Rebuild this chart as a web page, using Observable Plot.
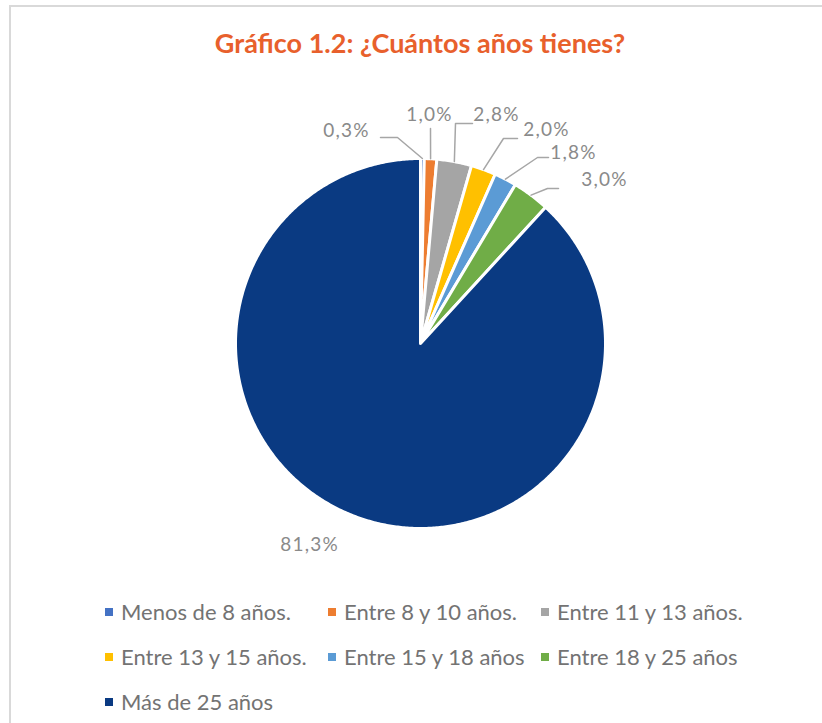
<!DOCTYPE html>
<html><head><meta charset="utf-8">
<script src="https://cdn.jsdelivr.net/npm/d3@7"></script>
<script src="https://cdn.jsdelivr.net/npm/@observablehq/plot@0.6"></script>
<style>
body{margin:0;background:#fff;font-family:Lato,sans-serif;}
#wrap{position:relative;width:822px;height:723px;overflow:hidden;background:#fff;}
#frame{position:absolute;left:9px;top:5px;width:900px;height:800px;border-left:2px solid #d9d9d9;border-top:2px solid #d9d9d9;}
#title{position:absolute;left:0;top:28px;width:840px;text-align:center;font-weight:700;font-size:27px;line-height:30px;color:#E8602C;}
#chart{position:absolute;left:0;top:0;}
#legend{position:absolute;left:105px;top:589px;display:grid;grid-template-columns:223px 213px auto;}
.item{height:45px;display:flex;align-items:center;font-size:22px;color:#737373;white-space:nowrap;}
.sw{width:8px;height:8px;margin-right:8px;flex:none;}
</style></head>
<body>
<div id="wrap">
  <div id="frame"></div>
  <div id="chart"></div>
  <div id="title"></div>
  <div id="legend"></div>
</div>
<script>
// ---- data ----
const titleText = "Gráfico 1.2: ¿Cuántos años tienes?";
const categories = ["Menos de 8 años.","Entre 8 y 10 años.","Entre 11 y 13 años.","Entre 13 y 15 años.","Entre 15 y 18 años","Entre 18 y 25 años","Más de 25 años"];
const percentages = [0.3, 1.0, 2.8, 2.0, 1.8, 3.0, 81.3];
const colors = ["#4472C4","#ED7D31","#A5A5A5","#FFC000","#5B9BD5","#70AD47","#0A3A82"];

// ---- layout (pixels, relative to pie centre) ----
const R = 185, CX = 420, CY = 343, W = 822, H = 590;
const labelOffsets = [[-74,-213],[9,-229],[76,-229],[126,-214],[153,-191],[184,-164],[-111,201]];
const leaderBends = [[[-23,-206],[-40,-206]], [[10,-215]], [[35,-220],[52,-220]], [[83,-205],[97,-205]], [[117,-186],[128,-186]], [[127,-155],[138,-155]], null];

document.getElementById("title").textContent = titleText;

const pie = d3.pie().sort(null).value(d => d)(percentages);
const slices = [];
const leaders = [];
const labels = [];
pie.forEach((p, i) => {
  const a0 = p.startAngle, a1 = p.endAngle;
  slices.push({cat: categories[i], x: 0, y: 0});
  const n = Math.max(2, Math.ceil((a1 - a0) / (Math.PI / 360)));
  for (let k = 0; k <= n; k++) {
    const a = a0 + (a1 - a0) * k / n;
    slices.push({cat: categories[i], x: Math.sin(a), y: Math.cos(a)});
  }
  const m = (a0 + a1) / 2;
  if (leaderBends[i]) {
    leaders.push({i, x: Math.sin(m) * 1.0, y: Math.cos(m) * 1.0});
    leaderBends[i].forEach(([dx, dy]) => leaders.push({i, x: dx / R, y: -dy / R}));
  }
  labels.push({x: labelOffsets[i][0] / R, y: -labelOffsets[i][1] / R,
    text: percentages[i].toFixed(1).replace(".", ",") + "%"});
});

const chart = Plot.plot({
  width: W, height: H, margin: 0,
  x: {domain: [-CX / R, (W - CX) / R], axis: null},
  y: {domain: [-(H - CY) / R, CY / R], axis: null},
  color: {domain: categories, range: colors},
  style: {background: "transparent", letterSpacing: "1.2px"},
  marks: [
    Plot.line(slices, {x: "x", y: "y", z: "cat", fill: "cat", stroke: "white", strokeWidth: 3, curve: "linear-closed", strokeLinejoin: "round"}),
    Plot.line(leaders, {x: "x", y: "y", z: "i", stroke: "#a6a6a6", strokeWidth: 1.5}),
    Plot.text(labels, {x: "x", y: "y", text: "text", fill: "#8a8a8a", fontSize: 19, fontFamily: "Lato"})
  ]
});
document.getElementById("chart").appendChild(chart);

const legend = document.getElementById("legend");
categories.forEach((c, i) => {
  const it = document.createElement("div");
  it.className = "item";
  const sw = document.createElement("span");
  sw.className = "sw";
  sw.style.background = colors[i];
  const t = document.createElement("span");
  t.textContent = c;
  it.appendChild(sw); it.appendChild(t);
  legend.appendChild(it);
});
</script>
</body></html>
